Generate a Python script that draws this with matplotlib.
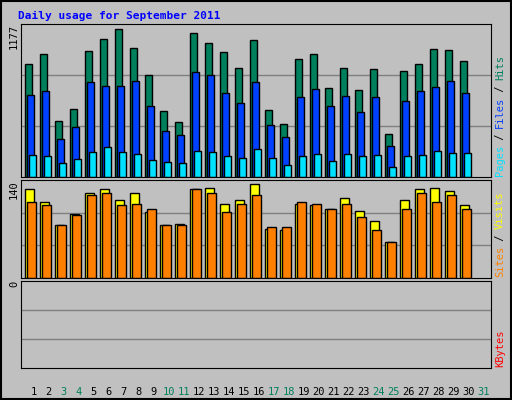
import matplotlib
matplotlib.use('Agg')
import matplotlib.pyplot as plt
import numpy as np

days = np.arange(1, 31)
hits = [873, 943, 433, 525, 966, 1059, 1136, 989, 788, 510, 425, 1105, 1028, 958, 842,
        1051, 518, 410, 904, 950, 688, 842, 672, 827, 332, 819, 873, 981, 974, 889]
files = [634, 664, 294, 386, 734, 703, 703, 742, 549, 355, 325, 804, 788, 649, 572,
         734, 402, 309, 618, 680, 549, 626, 502, 618, 240, 587, 664, 695, 742, 649]
pages = [170, 162, 108, 139, 193, 232, 193, 178, 131, 116, 108, 201, 193, 162, 147,
         216, 147, 93, 162, 178, 124, 178, 162, 170, 77, 162, 170, 201, 185, 185]
sites = [127, 109, 76, 92, 121, 127, 111, 121, 95, 76, 77, 127, 128, 106, 112,
         134, 70, 69, 106, 105, 99, 114, 96, 82, 51, 112, 127, 128, 124, 104]
visits = [109, 104, 76, 90, 118, 121, 104, 106, 99, 76, 76, 127, 121, 95, 106,
          118, 73, 73, 109, 106, 99, 106, 87, 69, 52, 99, 121, 109, 118, 99]
weekend = [3, 4, 10, 11, 17, 18, 24, 25, 31]
max_hits = 1177
max_visits = 140

W, H = 512, 400
fig = plt.figure(figsize=(W / 100, H / 100), dpi=100)
fig.patch.set_facecolor('#c0c0c0')
mono = 'DejaVu Sans Mono'


def panel(top, bottom):
    ax = fig.add_axes([20.5 / W, 1 - bottom / H, 470 / W, (bottom - top) / H])
    ax.set_facecolor('#c0c0c0')
    ax.set_xlim(0.46, 0.46 + 470 / 15)
    ax.set_xticks([])
    ax.set_yticks([])
    for s in ax.spines.values():
        s.set_color('black')
    return ax


# hits/files/pages
ax1 = panel(24, 177)
ax1.set_ylim(0, max_hits)
for g in (max_hits / 3, 2 * max_hits / 3):
    ax1.axhline(g, color='#808080', lw=1, zorder=0)
kw = dict(align='edge', edgecolor='black', linewidth=1)
ax1.bar(days - 0.25, hits, 0.5, color='#00805c', **kw)
ax1.bar(days - 0.117, files, 0.5, color='#0040ff', **kw)
ax1.bar(days + 0.017, pages, 0.5, color='#00e0ff', **kw)

# sites/visits
ax2 = panel(180, 278)
ax2.set_ylim(0, max_visits)
for g in (max_visits / 3, 2 * max_visits / 3):
    ax2.axhline(g, color='#808080', lw=1, zorder=0)
ax2.bar(days - 0.25, sites, 0.58, color='#ffff00', **kw)
ax2.bar(days - 0.117, visits, 0.62, color='#ff8000', **kw)

# kbytes
ax3 = panel(281, 368)
ax3.set_ylim(0, 1)
for g in (1 / 3, 2 / 3):
    ax3.axhline(g, color='#808080', lw=1, zorder=0)
ax3.set_xticks(np.arange(1, 32) + 0.35)
ax3.set_xticklabels([str(d) for d in range(1, 32)], fontsize=7.5, family=mono)
ax3.tick_params(axis='x', length=0, pad=14)
for lbl, d in zip(ax3.get_xticklabels(), range(1, 32)):
    lbl.set_color('#00805c' if d in weekend else 'black')

fig.text(18 / W, 1 - 16 / H, 'Daily usage for September 2011', color='#0000ff',
         fontsize=8, family=mono, weight='bold', va='center')
fig.text(14 / W, 1 - 24 / H, str(max_hits), rotation=90, fontsize=7.5, family=mono, va='top', ha='center')
fig.text(14 / W, 1 - 180 / H, str(max_visits), rotation=90, fontsize=7.5, family=mono, va='top', ha='center')
fig.text(14 / W, 1 - 281 / H, '0', rotation=90, fontsize=7.5, family=mono, va='top', ha='center')


def right_label(y, parts):
    # parts listed bottom-to-top
    yy = y
    for txt, col in parts:
        fig.text(500 / W, 1 - yy / H, txt, rotation=90, fontsize=7.5, family=mono,
                 color=col, ha='center', va='bottom')
        yy -= len(txt) * 6.0


right_label(176, [('Pages', '#00e0ff'), (' / ', '#000000'), ('Files', '#0040ff'),
                  (' / ', '#000000'), ('Hits', '#00805c')])
right_label(277, [('Sites', '#ff8000'), (' / ', '#000000'), ('Visits', '#ffff00')])
right_label(367, [('KBytes', '#ff0000')])

fig.add_artist(plt.Rectangle((1 / W, 1 / H), 1 - 2 / W, 1 - 2 / H, transform=fig.transFigure,
                             fill=False, edgecolor='black', lw=1.5))
fig.savefig('out.png', dpi=100, facecolor=fig.get_facecolor())
